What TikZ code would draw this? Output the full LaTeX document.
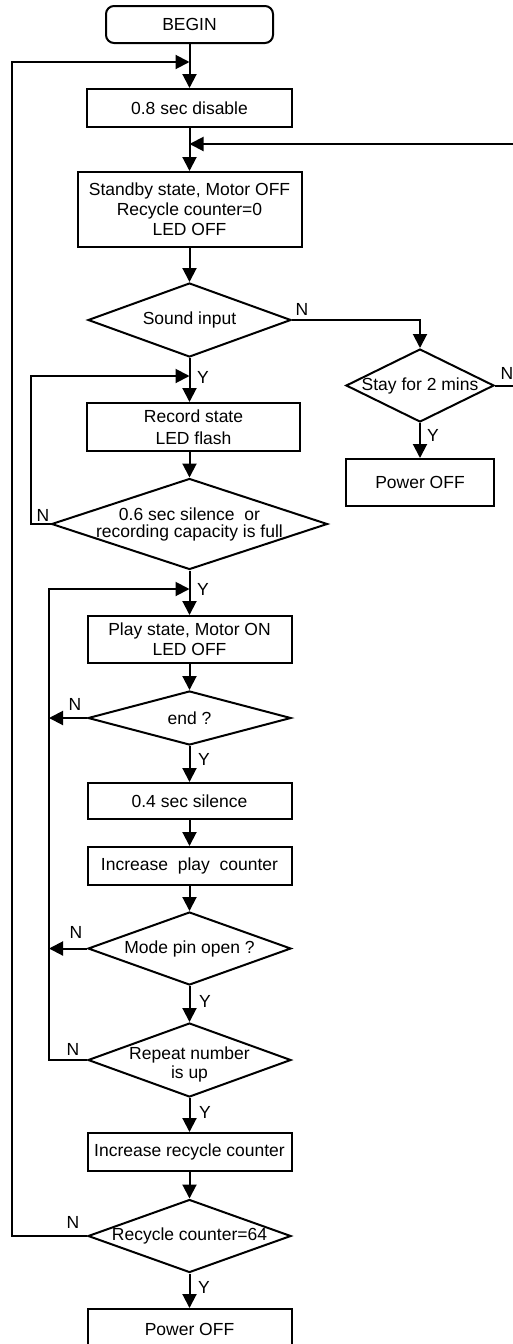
\documentclass[tikz,border=0pt]{standalone}
\usepackage{fontspec}
\setmainfont{Liberation Sans}
\usetikzlibrary{shapes.geometric,arrows.meta}

\begin{document}
\begin{tikzpicture}[x=1pt, y=-1pt,
        font=\fontsize{17.5}{20}\selectfont,
        box/.style={draw, rectangle, line width=2pt, align=center, inner sep=0pt},
        decision/.style={draw, diamond, line width=2pt, inner sep=0pt},
        arr/.style={line width=2pt, -{Triangle[length=14pt,width=14pt]}},
        yn/.style={inner sep=0pt}]
        \useasboundingbox (0,0) rectangle (512,1344);

        % Inicio
        \node[box, rounded corners=8pt, minimum width=167pt, minimum height=37pt] (begin) at (189.5,24.5) {BEGIN};
        \node[box, minimum width=205pt, minimum height=38pt] (disable) at (189.5,108) {0.8 sec disable};
        \node[box, minimum width=224pt, minimum height=75pt] (standby) at (189.5,209.5) {Standby state, Motor OFF\\Recycle counter=0\\LED OFF};
        \node[decision, minimum width=203pt, minimum height=74pt, label={center:{Sound input}}] (sound) at (189.5,320) {};

        % Ramo da direita
        \node[decision, minimum width=148pt, minimum height=73pt, label={center:{Stay for 2 mins}}] (stay) at (420,385.5) {};
        \node[box, minimum width=148pt, minimum height=47pt] (offA) at (420,482.5) {Power OFF};

        % Gravacao
        \node[box, minimum width=213pt, minimum height=48pt, font=\fontsize{17.5}{22}\selectfont] (record) at (193.5,427) {Record state\\LED flash};
        \node[decision, minimum width=276pt, minimum height=91pt, label={[align=center, font=\fontsize{17.5}{17}\selectfont]center:{0.6 sec silence~ or\\recording capacity is full}}] (silent) at (189.5,524) {};

        % Reproducao
        \node[box, minimum width=204pt, minimum height=47pt] (play) at (189.5,639.5) {Play state, Motor ON\\LED OFF};
        \node[decision, minimum width=203pt, minimum height=54pt, label={center:{end ?}}] (endq) at (189.5,718) {};
        \node[box, minimum width=204pt, minimum height=36pt] (gap) at (189.5,801) {0.4 sec silence};
        \node[box, minimum width=204pt, minimum height=38pt] (incplay) at (189.5,866) {Increase~ play~ counter};
        \node[decision, minimum width=203pt, minimum height=73pt, label={center:{Mode pin open ?}}] (mode) at (189.5,948.5) {};
        \node[decision, minimum width=203pt, minimum height=74pt, label={[align=center, yshift=-4pt, font=\fontsize{17.5}{19}\selectfont]center:{Repeat number\\is up}}] (repeat) at (189.5,1060) {};
        \node[box, minimum width=204pt, minimum height=38pt] (increc) at (189.5,1152) {Increase recycle counter};
        \node[decision, minimum width=203pt, minimum height=73pt, label={center:{Recycle counter=64}}] (recyc) at (189.5,1236) {};
        \node[box, minimum width=204pt, minimum height=40pt] (offB) at (189.5,1329) {Power OFF};

        % Pontos de juncao
        \coordinate (jtop) at (189.5,62);
        \coordinate (jstby) at (189.5,144);
        \coordinate (jrec) at (189.5,376);
        \coordinate (jplay) at (189.5,589);

        % Setas principais
        \draw[arr] (begin) -- (disable);
        \draw[arr] (disable) -- (standby);
        \draw[arr] (standby) -- (sound);
        \draw[arr] (sound) -- (sound |- record.north);
        \draw[arr] (record.south -| sound) -- (silent);
        \draw[arr] (silent) -- (play);
        \draw[arr] (play) -- (endq);
        \draw[arr] (endq) -- (gap);
        \draw[arr] (gap) -- (incplay);
        \draw[arr] (incplay) -- (mode);
        \draw[arr] (mode) -- (repeat);
        \draw[arr] (repeat) -- (increc);
        \draw[arr] (increc) -- (recyc);
        \draw[arr] (recyc) -- (offB);

        % Setas de retorno
        \draw[arr] (sound.east) -| (stay.north);
        \draw[arr] (stay) -- (offA);
        \draw[arr] (stay.east) -- ++(20,0) |- (jstby);
        \draw[arr] (silent.west) -- ++(-20,0) |- (jrec);
        \draw[arr] (endq.west) -- ++(-38,0);
        \draw[arr] (mode.west) -- ++(-38,0);
        \draw[arr] (repeat.west) -- ++(-38,0) |- (jplay);
        \draw[arr] (recyc.west) -- ++(-75,0) |- (jtop);

        % Rotulos Y / N
        \node[yn] (nsound) at (302,309) {N};
        \node[yn] (ysound) at (203,377) {Y};
        \node[yn] (nstay) at (507,373) {N};
        \node[yn] (ystay) at (433,435) {Y};
        \node[yn] (nsilent) at (43,515) {N};
        \node[yn] (ysilent) at (203,589) {Y};
        \node[yn] (nendq) at (75,704) {N};
        \node[yn] (yendq) at (204,759) {Y};
        \node[yn] (nmode) at (76,932) {N};
        \node[yn] (ymode) at (205,1001) {Y};
        \node[yn] (nrepeat) at (73,1049) {N};
        \node[yn] (yrepeat) at (205,1112) {Y};
        \node[yn] (nrecyc) at (73,1222) {N};
        \node[yn] (yrecyc) at (204,1287) {Y};
\end{tikzpicture}
\end{document}
